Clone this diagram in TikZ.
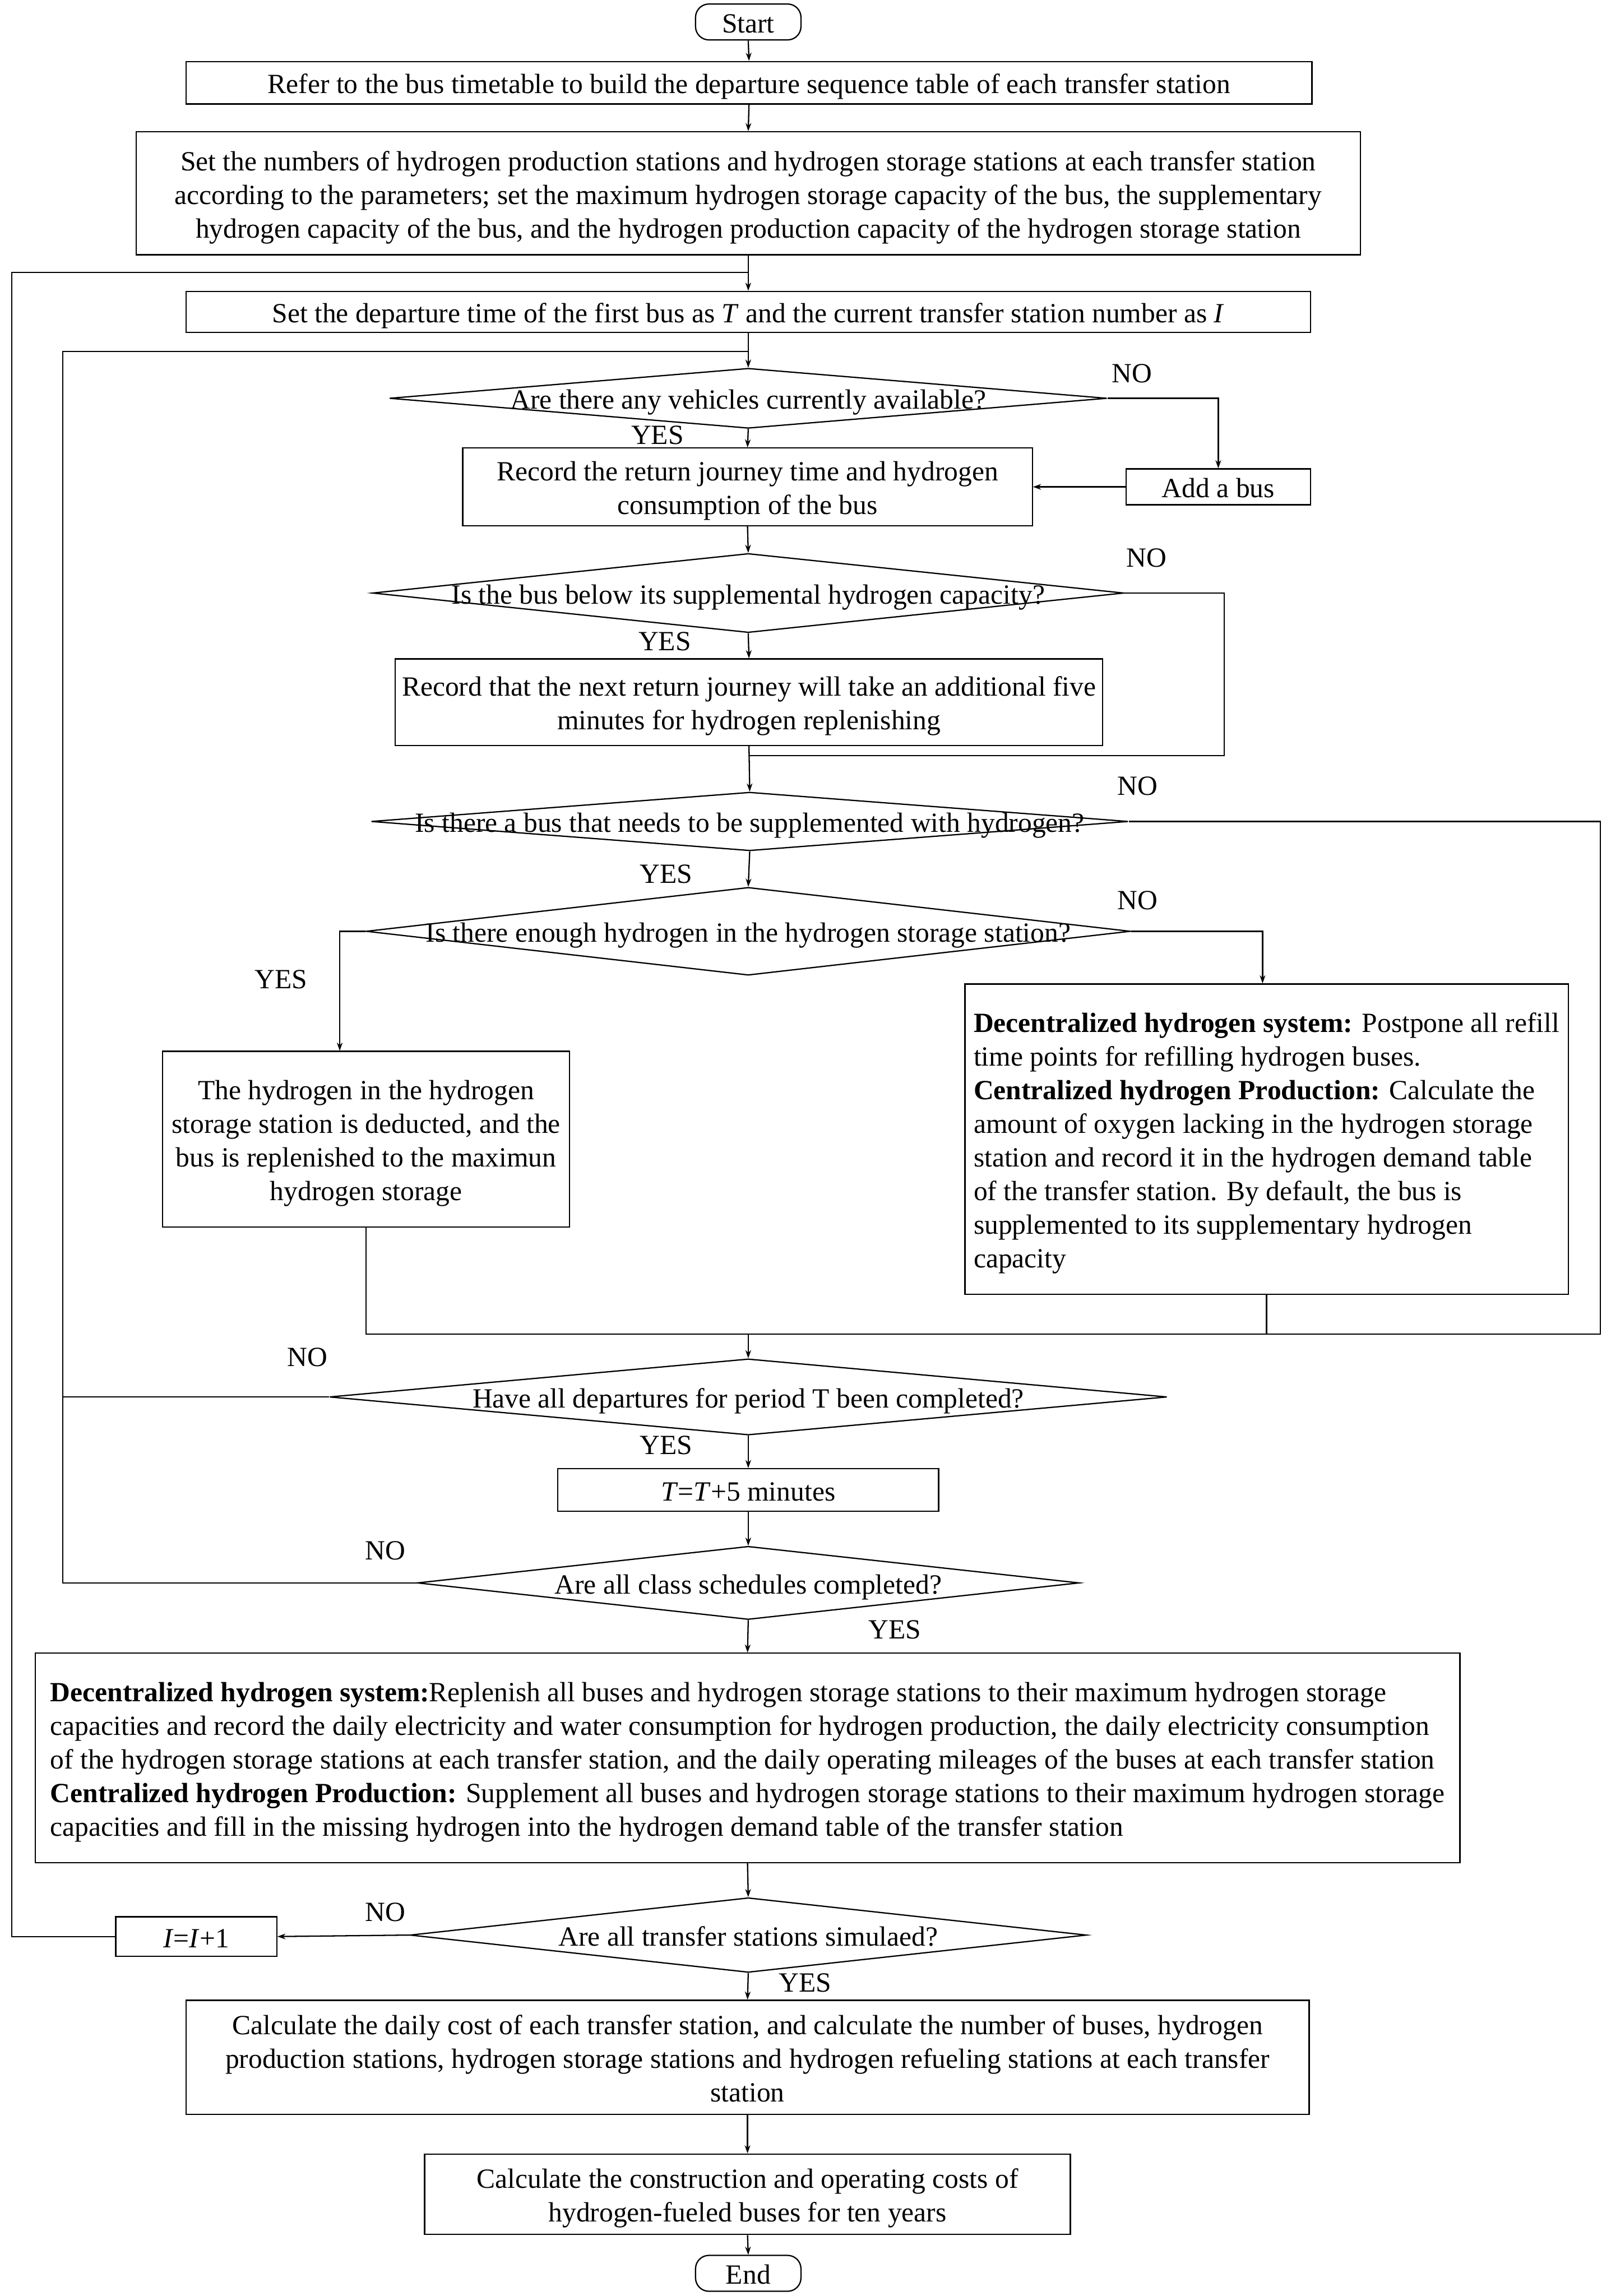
\documentclass[tikz,border=0pt]{standalone}
\usepackage{fontspec}
\setmainfont{Liberation Serif}
\usepackage{tikz}
\usetikzlibrary{arrows.meta,calc,positioning,shapes.geometric}
\newcommand{\dpx}{0.036136cm}
\newcommand{\topstrut}{\rule{0pt}{20.2pt}}
\tikzset{
  lines/.style    = {execute at begin node={\topstrut},
                     execute at end node={\rule[-5pt]{0pt}{5pt}}},
  box/.style      = {draw, line width=0.9pt, align=center, inner sep=0pt, lines},
  lbox/.style     = {box, align=left},
  term/.style     = {box, rounded corners=0.33cm},
  decision/.style = {draw, line width=0.9pt, diamond, inner sep=0pt},
  dtext/.style    = {inner sep=0pt, align=center, lines},
  wh/.style 2 args = {minimum width=#1*\dpx, minimum height=#2*\dpx},
  wire/.style     = {line width=0.9pt},
  arr/.style      = {wire, -{Stealth[length=2mm,width=1.4mm]}},
}

\begin{document}
\begin{tikzpicture}[x=\dpx,y=-\dpx,font=\fontsize{19.5pt}{23.6pt}\selectfont]
  \useasboundingbox (0,0) rectangle (1100,1568);
  % main column
  \node[term, wh={72}{20}] (start) at (511,15) {Start};
  \node[box, wh={769}{29}] (b1) at (511.5,56.5)
    {Refer to the bus timetable to build the departure sequence table of each transfer station};
  \node[box, wh={836}{84}] (b2) at (511,132)
    {\topstrut Set the numbers of hydrogen production stations and hydrogen storage stations at each transfer station\\
     according to the parameters; set the maximum hydrogen storage capacity of the bus, the supplementary\\
     hydrogen capacity of the bus, and the hydrogen production capacity of the hydrogen storage station};
  \node[box, wh={768}{28}] (b3) at (511,213)
    {Set the departure time of the first bus as \textit{T} and the current transfer station number as \textit{I}};
  \node[decision, wh={490}{41}] (d1) at (511,272) {};
  \node[dtext] (d1t) at (d1) {Are there any vehicles currently available?};
  \node[box, wh={389}{53}] (b4) at (510.5,332.5)
    {\topstrut Record the return journey time and hydrogen\\ consumption of the bus};
  \node[box, wh={126}{19}] (add) at (832,332.5) {Add a bus};
  \node[decision, wh={513}{54}] (d2) at (511,405) {};
  \node[dtext] (d2t) at (d2) {Is the bus below its supplemental hydrogen capacity?};
  \node[box, wh={483}{59}] (b5) at (511.5,479.5)
    {\topstrut Record that the next return journey will take an additional five\\ minutes for hydrogen replenishing};
  \node[decision, wh={517}{40}] (d3) at (512,561) {};
  \node[dtext] (d3t) at (d3) {Is there a bus that needs to be supplemented with hydrogen?};
  \node[decision, wh={522}{60}] (d4) at (511,636) {};
  \node[dtext] (d4t) at (d4) {Is there enough hydrogen in the hydrogen storage station?};
  \node[box, wh={278}{120}] (b6) at (250,778)
    {\topstrut The hydrogen in the hydrogen\\ storage station is deducted, and the\\ bus is replenished to the maximun\\ hydrogen storage};
  \node[lbox, wh={412}{212}] (b7) at (865,778)
    {\topstrut\textbf{Decentralized hydrogen system:} Postpone all refill\\
     time points for refilling hydrogen buses.\\
     \textbf{Centralized hydrogen Production:} Calculate the\\
     amount of oxygen lacking in the hydrogen storage\\
     station and record it in the hydrogen demand table\\
     of the transfer station. By default, the bus is\\
     supplemented to its supplementary hydrogen\\
     capacity};
  \node[decision, wh={572}{52}] (d5) at (511,954) {};
  \node[dtext] (d5t) at (d5) {Have all departures for period T been completed?};
  \node[box, wh={260}{29}] (b8) at (511,1017.5) {\textit{T}=\textit{T}+5 minutes};
  \node[decision, wh={452}{50}] (d6) at (511,1081) {};
  \node[dtext] (d6t) at (d6) {Are all class schedules completed?};
  \node[lbox, wh={973}{143}] (b9) at (510.5,1200.5)
    {\topstrut\textbf{Decentralized hydrogen system:}Replenish all buses and hydrogen storage stations to their maximum hydrogen storage\\
     capacities and record the daily electricity and water consumption for hydrogen production, the daily electricity consumption\\
     of the hydrogen storage stations at each transfer station, and the daily operating mileages of the buses at each transfer station\\
     \textbf{Centralized hydrogen Production:} Supplement all buses and hydrogen storage stations to their maximum hydrogen storage\\
     capacities and fill in the missing hydrogen into the hydrogen demand table of the transfer station};
  \node[decision, wh={462}{51}] (d7) at (511,1321.5) {};
  \node[dtext] (d7t) at (d7) {Are all transfer stations simulaed?};
  \node[box, wh={110}{27}] (inc) at (134,1322.5) {\textit{I}=\textit{I}+1};
  \node[box, wh={767}{78}] (b10) at (510.5,1405)
    {\topstrut Calculate the daily cost of each transfer station, and calculate the number of buses, hydrogen\\
     production stations, hydrogen storage stations and hydrogen refueling stations at each transfer\\
     station};
  \node[box, wh={441}{55}] (b11) at (510.5,1498.5)
    {\topstrut Calculate the construction and operating costs of\\ hydrogen-fueled buses for ten years};
  \node[term, wh={72}{19}] (end) at (511,1552.5) {End};

  % branch labels
  \foreach \nm/\xx/\yy/\lab in {n1/773/255/NO, y1/449/297/YES, n2/783/381/NO, y2/454/438/YES,
      n3/777/537/NO, y3/455/597/YES, n4/777/615/NO, y4/192/669/YES, n5/210/927/NO,
      y5/455/987/YES, n6/263/1059/NO, y6/611/1113/YES, n7/263/1306/NO, y7/550/1354/YES}
    {\node[inner sep=0pt] (\nm) at (\xx,\yy) {\lab};}

  % junctions
  \coordinate (ja) at (511,186);
  \coordinate (la) at (8,186);
  \coordinate (jb) at (511,240);
  \coordinate (lb) at (43,240);
  \coordinate (jc) at (511,516);
  \coordinate (rc) at (836,516);
  \coordinate (jd) at (511,911);
  \coordinate (rd) at (1093,911);

  % straight flow
  \foreach \a/\b in {start/b1,b1/b2,b2/b3,b3/d1,d1/b4,b4/d2,d2/b5,b5/d3,d3/d4,
      d5/b8,b8/d6,d6/b9,b9/d7,d7/b10,b10/b11,b11/end}
    {\draw[arr] (\a.south) -- (\b.north);}
  \draw[arr] (jd) -- (d5.north);
  \draw[arr] (add.west) -- (b4.east);
  \draw[arr] (d7.west) -- (inc.east);

  % side branches
  \draw[arr] (d1.east) -| (add.north);
  \draw[wire] (d2.east) -| (rc) -- (jc);
  \draw[wire] (d3.east) -| (rd) -- (jd);
  \draw[arr] (d4.west) -| ([xshift=-0.65cm]b6.north);
  \draw[arr] (d4.east) -| ([xshift=-0.1cm]b7.north);
  \draw[wire] (b6.south) |- (jd);
  \draw[wire] (b7.south) |- (jd);

  % loops back
  \draw[wire] (d6.west) -| (lb) -- (jb);
  \draw[wire] (d5.west) -- (d5.west -| lb);
  \draw[wire] (inc.west) -| (la) -- (ja);
\end{tikzpicture}
\end{document}
